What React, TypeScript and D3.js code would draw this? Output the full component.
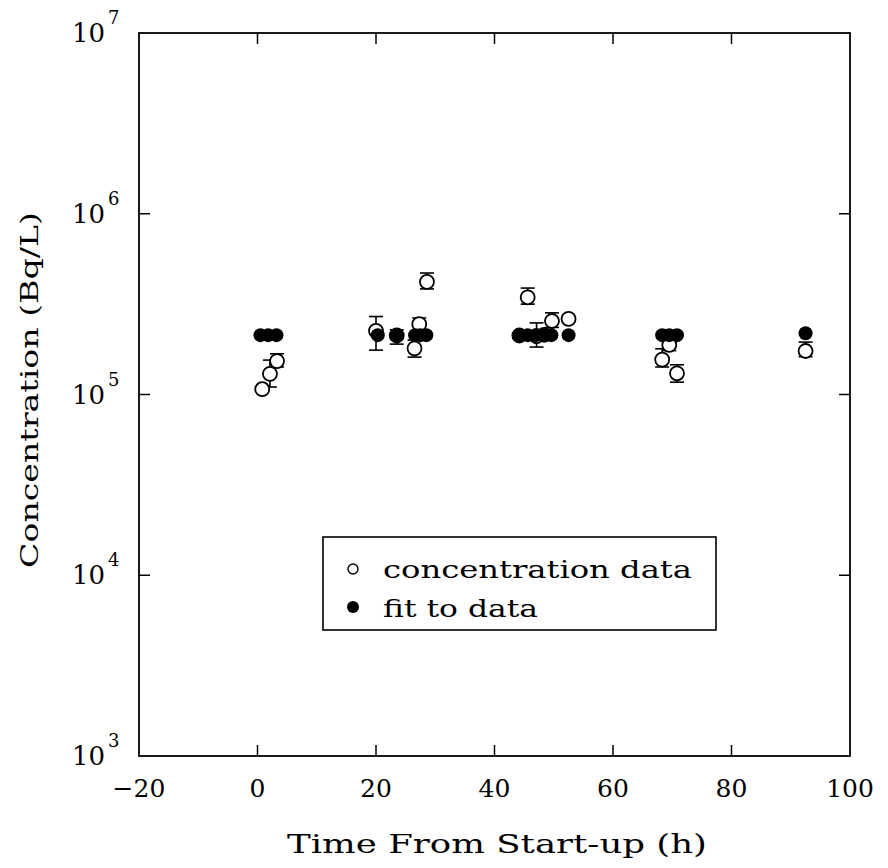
import React from "react";
import * as d3 from "d3";

// Measured concentration with its uncertainty band
const dataTime = [0.8, 2.1, 3.3, 20.0, 23.5, 26.5, 27.3, 28.6, 44.2, 45.6, 47.1, 48.4, 49.7, 52.5, 68.3, 69.5, 70.8, 92.5];
const dataConc = [1.07e5, 1.30e5, 1.53e5, 2.25e5, 2.12e5, 1.80e5, 2.45e5, 4.20e5, 2.12e5, 3.45e5, 2.10e5, 2.14e5, 2.55e5, 2.62e5, 1.56e5, 1.88e5, 1.31e5, 1.74e5];
const dataLow = [1.07e5, 1.10e5, 1.42e5, 1.76e5, 1.90e5, 1.61e5, 2.15e5, 3.84e5, 2.12e5, 3.16e5, 1.83e5, 2.14e5, 2.35e5, 2.62e5, 1.42e5, 1.75e5, 1.17e5, 1.62e5];
const dataHigh = [1.07e5, 1.55e5, 1.68e5, 2.70e5, 2.28e5, 2.00e5, 2.65e5, 4.70e5, 2.12e5, 3.88e5, 2.49e5, 2.14e5, 2.83e5, 2.62e5, 1.79e5, 1.95e5, 1.46e5, 1.95e5];

// Fitted concentration at the same sampling times
const fitTime = [0.5, 1.8, 3.2, 20.3, 23.5, 26.6, 27.5, 28.5, 44.2, 45.6, 47.0, 48.4, 49.6, 52.5, 68.3, 69.5, 70.8, 92.5];
const fitConc = [2.13e5, 2.13e5, 2.13e5, 2.13e5, 2.13e5, 2.13e5, 2.13e5, 2.13e5, 2.13e5, 2.13e5, 2.13e5, 2.13e5, 2.13e5, 2.13e5, 2.13e5, 2.13e5, 2.13e5, 2.18e5];

const xTicks = [-20, 0, 20, 40, 60, 80, 100];
const yTicks = [1e3, 1e4, 1e5, 1e6, 1e7];

const W = 888;
const H = 868;
const left = 139;
const right = 850;
const top = 33;
const bottom = 756;
const FONT = "'DejaVu Serif', 'Liberation Serif', serif";

export default function App() {
  const x = d3.scaleLinear().domain([-20, 100]).range([left, right]);
  const y = d3.scaleLog().domain([1e3, 1e7]).range([bottom, top]);
  const tickLen = 11;
  const r = 7;
  const cap = 7;

  return (
    <svg width={W} height={H} style={{ position: "absolute", left: 0, top: 0, background: "#fff" }}>
      <rect x={0} y={0} width={W} height={H} fill="#fff" />
      {/* frame */}
      <rect x={left} y={top} width={right - left} height={bottom - top} fill="none" stroke="#000" strokeWidth={1.8} />

      {/* x ticks */}
      {xTicks.map((t) => (
        <g key={"xt" + t}>
          {t > -20 && t < 100 && (
            <>
              <line x1={x(t)} x2={x(t)} y1={bottom} y2={bottom - tickLen} stroke="#000" strokeWidth={1.5} />
              <line x1={x(t)} x2={x(t)} y1={top} y2={top + tickLen} stroke="#000" strokeWidth={1.5} />
            </>
          )}
          <text x={x(t)} y={797} textAnchor="middle" fontFamily={FONT} fontSize={25}>
            {t < 0 ? "\u2212" + Math.abs(t) : t}
          </text>
        </g>
      ))}

      {/* y ticks */}
      {yTicks.map((t) => {
        const e = Math.round(Math.log10(t));
        return (
          <g key={"yt" + t}>
            {t > 1e3 && t < 1e7 && (
              <>
                <line x1={left} x2={left + tickLen} y1={y(t)} y2={y(t)} stroke="#000" strokeWidth={1.5} />
                <line x1={right} x2={right - tickLen} y1={y(t)} y2={y(t)} stroke="#000" strokeWidth={1.5} />
              </>
            )}
            <text x={105} y={y(t) + 9} textAnchor="end" fontFamily={FONT} fontSize={26}>
              10
            </text>
            <text x={108} y={y(t) - 9} textAnchor="start" fontFamily={FONT} fontSize={18}>
              {e}
            </text>
          </g>
        );
      })}

      {/* error bars */}
      {dataTime.map((t, i) =>
        dataLow[i] < dataHigh[i] ? (
          <g key={"eb" + i} stroke="#000" strokeWidth={1.6}>
            <line x1={x(t)} x2={x(t)} y1={y(dataLow[i])} y2={y(dataHigh[i])} />
            <line x1={x(t) - cap} x2={x(t) + cap} y1={y(dataLow[i])} y2={y(dataLow[i])} />
            <line x1={x(t) - cap} x2={x(t) + cap} y1={y(dataHigh[i])} y2={y(dataHigh[i])} />
          </g>
        ) : null
      )}

      {/* measured points */}
      {dataTime.map((t, i) => (
        <circle key={"d" + i} cx={x(t)} cy={y(dataConc[i])} r={r} fill="#fff" stroke="#000" strokeWidth={1.8} />
      ))}

      {/* fitted points */}
      {fitTime.map((t, i) => (
        <circle key={"f" + i} cx={x(t)} cy={y(fitConc[i])} r={r} fill="#000" />
      ))}

      {/* legend */}
      <rect x={323} y={537} width={393} height={93} fill="#fff" stroke="#000" strokeWidth={1.6} />
      <circle cx={353} cy={569} r={5} fill="#fff" stroke="#000" strokeWidth={1.4} />
      <text x={383} y={578} fontFamily={FONT} fontSize={25} textLength={309} lengthAdjust="spacingAndGlyphs">
        concentration data
      </text>
      <circle cx={353} cy={607} r={6} fill="#000" />
      <text x={383} y={617} fontFamily={FONT} fontSize={25} textLength={155} lengthAdjust="spacingAndGlyphs">
        fit to data
      </text>

      {/* axis titles */}
      <text x={497} y={853} textAnchor="middle" fontFamily={FONT} fontSize={26} textLength={420} lengthAdjust="spacingAndGlyphs">
        Time From Start-up (h)
      </text>
      <text
        transform={`translate(38, 390) rotate(-90)`}
        textAnchor="middle"
        fontFamily={FONT}
        fontSize={25}
        textLength={356}
        lengthAdjust="spacingAndGlyphs"
      >
        Concentration (Bq/L)
      </text>
    </svg>
  );
}
